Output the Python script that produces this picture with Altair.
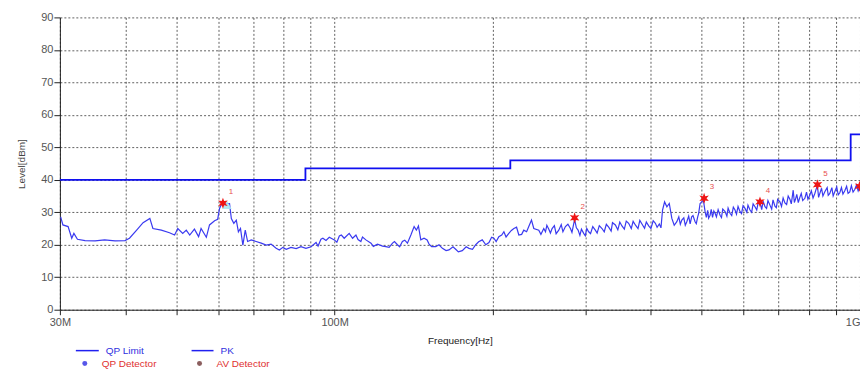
import altair as alt
import pandas as pd

# ---------------- data (frequency in MHz, level in dB) ----------------
limit_freq = [30, 88, 216, 960, 1000]
limit_level = [40, 43.5, 46, 54, 54]

marker_freq = [61.3, 286.3, 505.0, 645.1, 829.8, 998.0]
marker_level = [32.8, 28.3, 34.3, 33.2, 38.5, 38.0]
marker_label = ["1", "2", "3", "4", "5", ""]

qp_freq = [62.4]
qp_level = [32.3]

x_ticks = [30, 40, 50, 60, 70, 80, 90, 100, 200, 300, 400, 500, 600, 700, 800, 900, 1000]
y_ticks = [0, 10, 20, 30, 40, 50, 60, 70, 80, 90]

pk_trace = [
    (30.1, 28.6), (30.4, 26.1), (31.1, 25.6), (31.6, 22.0), (31.9, 23.5), (32.4, 21.7),
    (33.5, 21.3), (35.0, 21.2), (36.5, 21.5), (38.2, 21.2), (39.9, 21.3), (40.7, 22.0),
    (42.0, 24.5), (43.2, 26.8), (44.5, 28.1), (45.1, 25.0), (46.8, 24.5), (48.5, 23.7),
    (49.6, 23.0), (50.3, 25.0), (51.4, 23.5), (52.2, 24.5), (53.0, 23.0), (54.1, 24.8),
    (55.1, 22.5), (55.7, 25.0), (57.0, 22.3), (57.8, 26.1), (59.1, 27.4), (59.9, 27.8),
    (60.4, 31.2), (60.8, 32.2), (61.3, 32.7), (63.1, 32.7), (63.6, 28.1), (64.3, 26.6),
    (65.0, 27.6), (65.6, 24.0), (66.2, 25.0), (66.9, 19.9), (67.6, 24.5), (68.3, 21.0),
    (69.4, 21.5), (70.9, 21.0), (72.5, 20.5), (74.1, 19.9), (75.7, 20.2), (77.4, 18.9),
    (78.5, 18.4), (79.7, 19.2), (80.9, 18.6), (82.6, 19.2), (84.5, 18.8), (86.3, 19.4),
    (88.2, 18.9), (90.2, 19.4), (92.2, 20.7), (93.0, 19.6), (94.2, 21.7), (95.0, 22.0),
    (96.3, 21.3), (97.7, 22.3), (99.9, 21.5), (101.0, 20.8), (102.1, 22.7), (103.0, 23.0),
    (104.3, 22.0), (106.6, 23.5), (108.2, 22.0), (109.8, 23.0), (110.8, 21.6), (112.2, 21.0),
    (113.0, 22.4), (114.7, 21.5), (117.3, 20.5), (118.5, 19.5), (120.7, 20.2), (123.4, 19.6),
    (125.2, 19.4), (127.0, 19.2), (128.9, 20.5), (130.0, 21.0), (131.7, 20.0), (133.0, 19.4),
    (134.6, 21.0), (136.0, 21.4), (137.6, 20.5), (139.7, 23.0), (141.7, 25.6), (143.1, 24.5),
    (144.4, 25.8), (145.9, 21.5), (148.0, 22.0), (150.0, 21.5), (151.3, 20.2), (153.0, 19.4),
    (155.8, 19.4), (158.0, 20.0), (160.4, 18.9), (163.0, 18.2), (165.1, 18.4), (168.0, 19.4),
    (170.0, 18.6), (172.0, 17.8), (175.0, 18.2), (178.0, 19.4), (180.2, 18.9), (183.0, 18.6),
    (185.6, 20.0), (188.0, 20.9), (191.0, 21.5), (194.0, 20.0), (196.7, 20.7), (199.0, 22.3),
    (201.0, 22.0), (203.0, 21.0), (205.4, 22.5), (208.0, 23.0), (210.0, 24.0), (212.0, 22.4),
    (214.6, 23.5), (217.0, 24.4), (219.4, 25.0), (222.0, 25.4), (224.2, 23.0), (227.0, 23.2),
    (229.1, 24.5), (232.0, 24.0), (234.2, 25.6), (237.0, 27.6), (239.4, 25.0), (244.7, 24.5),
    (247.0, 23.2), (250.1, 25.0), (252.0, 24.0), (253.5, 26.0), (255.7, 24.8), (257.5, 23.6),
    (259.4, 25.0), (262.0, 25.9), (264.0, 23.4), (267.1, 24.5), (270.0, 26.2), (272.0, 24.0),
    (275.0, 25.6), (278.0, 26.3), (281.1, 25.0), (283.0, 23.8), (286.3, 27.8), (288.5, 25.2),
    (290.7, 24.5), (293.0, 22.9), (295.0, 24.8), (297.9, 23.5), (300.0, 22.8), (302.0, 25.0),
    (304.5, 24.0), (307.0, 23.4), (310.0, 25.6), (313.5, 24.5), (316.0, 23.6), (319.0, 25.9),
    (322.8, 25.0), (326.0, 24.0), (329.0, 26.3), (332.4, 25.4), (336.0, 24.2), (338.0, 26.8),
    (342.3, 26.1), (346.0, 24.6), (349.0, 27.0), (352.3, 25.8), (356.0, 24.8), (359.0, 27.3),
    (362.8, 26.6), (367.0, 25.0), (370.0, 27.2), (373.6, 26.1), (378.0, 25.0), (381.0, 27.5),
    (384.6, 26.4), (389.0, 25.1), (392.0, 27.0), (396.1, 25.8), (400.0, 25.0), (404.0, 27.4),
    (407.9, 26.6), (411.0, 25.4), (415.0, 26.4), (418.0, 25.2), (420.9, 30.7), (424.7, 33.2),
    (429.0, 31.7), (433.5, 32.7), (438.4, 28.1), (443.0, 26.0), (448.1, 27.1), (452.0, 28.6),
    (455.0, 26.3), (458.0, 27.6), (462.0, 28.3), (465.0, 26.0), (468.1, 27.1), (472.0, 28.8),
    (475.0, 26.4), (478.2, 28.6), (481.0, 29.0), (485.4, 27.1), (488.0, 26.5), (491.0, 28.6),
    (493.0, 29.6), (496.2, 32.7), (499.7, 33.2), (503.4, 33.7), (507.2, 30.2), (510.0, 28.4),
    (513.0, 30.6), (515.0, 28.2), (518.4, 29.1), (521.0, 30.9), (524.0, 28.4), (527.0, 30.4),
    (529.9, 29.7), (533.0, 28.6), (537.0, 30.8), (541.6, 29.1), (545.0, 28.4), (548.0, 31.0),
    (553.6, 30.2), (558.0, 28.8), (561.0, 31.3), (565.8, 29.7), (570.0, 29.0), (574.0, 31.6),
    (578.3, 30.7), (582.0, 29.4), (586.0, 31.8), (591.1, 30.2), (595.0, 29.6), (599.0, 32.0),
    (604.2, 31.2), (609.0, 30.0), (612.0, 32.2), (617.5, 30.7), (622.0, 30.0), (626.0, 32.6),
    (631.2, 31.7), (636.0, 30.7), (640.0, 33.0), (645.1, 33.2), (650.0, 30.8), (654.0, 33.4),
    (659.4, 31.7), (664.0, 31.2), (668.0, 33.6), (673.9, 32.2), (679.0, 31.0), (683.0, 33.8),
    (688.8, 31.9), (693.0, 31.4), (697.0, 34.0), (704.0, 33.2), (709.0, 31.8), (714.0, 34.4),
    (719.6, 32.9), (725.0, 32.4), (730.0, 35.0), (735.5, 34.0), (740.0, 32.6), (746.2, 36.8),
    (750.0, 33.0), (753.7, 34.0), (758.0, 35.5), (763.0, 33.0), (768.3, 34.6), (773.0, 35.8),
    (778.0, 33.6), (785.3, 34.3), (791.0, 36.2), (796.0, 34.0), (802.6, 35.3), (808.0, 36.6),
    (814.0, 34.4), (820.4, 35.8), (824.0, 36.8), (829.8, 38.3), (834.0, 34.6), (838.6, 35.8),
    (845.0, 37.4), (850.0, 35.0), (857.1, 36.3), (866.0, 37.6), (870.0, 35.2), (876.1, 35.8),
    (884.0, 37.6), (889.0, 35.0), (895.4, 36.3), (903.0, 37.8), (909.0, 35.4), (915.2, 36.0),
    (922.0, 37.6), (928.0, 35.6), (935.5, 36.6), (943.0, 38.0), (949.0, 35.8), (956.2, 36.3),
    (963.0, 38.2), (970.0, 36.2), (977.3, 37.0), (985.0, 38.4), (992.0, 36.6), (998.9, 37.8),
]

# ---------------- tables ----------------
limit_df = pd.DataFrame({"f": limit_freq, "level": limit_level})
pk_df = pd.DataFrame(pk_trace, columns=["f", "level"])
mk_df = pd.DataFrame({"f": marker_freq, "level": marker_level, "label": marker_label})
qp_df = pd.DataFrame({"f": qp_freq, "level": qp_level})

FONT = "Liberation Sans"
STAR = ("M0,-1L0.22,-0.38L0.87,-0.5L0.44,0L0.87,0.5L0.22,0.38L0,1"
        "L-0.22,0.38L-0.87,0.5L-0.44,0L-0.87,-0.5L-0.22,-0.38Z")

x_enc = alt.X(
    "f:Q",
    scale=alt.Scale(type="log", domain=[30, 1000], nice=False),
    axis=alt.Axis(
        values=x_ticks,
        labelExpr="datum.value == 30 ? '30M' : datum.value == 100 ? '100M' : datum.value == 1000 ? '1G' : ''",
        title="Frequency[Hz]",
        grid=True,
        gridColor="#3a3a3a",
        gridDash=[2, 2],
        gridWidth=0.8,
        tickSize=5,
        tickColor="#222",
        domainColor="#222",
        labelColor="#555",
        labelFontSize=11,
        labelFont=FONT,
        labelFlush=False,
        labelPadding=2,
        labelAlign={"condition": {"test": "datum.value == 1000", "value": "right"}, "value": "center"},
        titleFont=FONT,
        titleFontSize=10,
        titleFontWeight="normal",
        titleColor="#222",
        titlePadding=8,
    ),
)
y_enc = alt.Y(
    "level:Q",
    scale=alt.Scale(domain=[0, 90], nice=False),
    axis=alt.Axis(
        values=y_ticks,
        title="Level[dBm]",
        grid=True,
        gridColor="#3a3a3a",
        gridDash=[2, 2],
        gridWidth=0.8,
        tickSize=6,
        tickColor="#222",
        domainColor="#222",
        labelColor="#555",
        labelFontSize=11,
        labelFont=FONT,
        labelPadding=1,
        titleFont=FONT,
        titleFontSize=10,
        titleFontWeight="normal",
        titleColor="#444",
        titlePadding=14,
    ),
)

limit_layer = alt.Chart(limit_df).mark_line(
    interpolate="step-after", color="#1010f0", strokeWidth=1.8
).encode(x=x_enc, y=y_enc)

pk_layer = alt.Chart(pk_df).mark_line(color="#3a3af0", strokeWidth=1.2).encode(x=x_enc, y=y_enc)

qp_layer = alt.Chart(qp_df).mark_point(
    shape="triangle-up", filled=True, color="#a8e8f4", size=90, opacity=0.9
).encode(x=x_enc, y=y_enc)

mk_layer = alt.Chart(mk_df).mark_point(
    shape=STAR, filled=True, color="#ee1515", size=120, opacity=1
).encode(x=x_enc, y=y_enc)

mk_text = alt.Chart(mk_df).mark_text(
    dx=8, dy=-11, fontSize=8, color="#e85050", font=FONT
).encode(x=x_enc, y=y_enc, text="label:N")

# ---------------- manual legend ----------------
one = pd.DataFrame({"k": [0]})


def leg_rule(x1, x2, y, color):
    return alt.Chart(one).mark_rule(color=color, strokeWidth=1.5).encode(
        x=alt.value(x1), x2=alt.value(x2), y=alt.value(y)
    )


def leg_dot(x, y, color):
    return alt.Chart(one).mark_point(filled=True, color=color, size=25, shape="circle").encode(
        x=alt.value(x), y=alt.value(y)
    )


def leg_text(x, y, txt, color):
    return alt.Chart(pd.DataFrame({"t": [txt]})).mark_text(
        align="left", baseline="middle", fontSize=10, color=color, font=FONT
    ).encode(x=alt.value(x), y=alt.value(y), text="t:N")


legend = [
    leg_rule(16, 39, 334, "#2020f0"),
    leg_text(46, 334, "QP Limit", "#3030e0"),
    leg_rule(132, 154, 334, "#2020f0"),
    leg_text(161, 334, "PK", "#3030e0"),
    leg_dot(25, 347, "#1010e0"),
    leg_text(42, 347, "QP Detector", "#e03030"),
    leg_dot(140, 347, "#5a1a1a"),
    leg_text(157, 347, "AV Detector", "#e03030"),
]

chart = alt.layer(limit_layer, pk_layer, qp_layer, mk_layer, mk_text, *legend).properties(
    width=802,
    height=293,
    autosize="none",
    padding={"left": 52, "top": 9, "right": 0, "bottom": 60},
    background="white",
).configure_view(stroke=None)

chart.save("out.html", embed_options={"renderer": "svg", "actions": False})
